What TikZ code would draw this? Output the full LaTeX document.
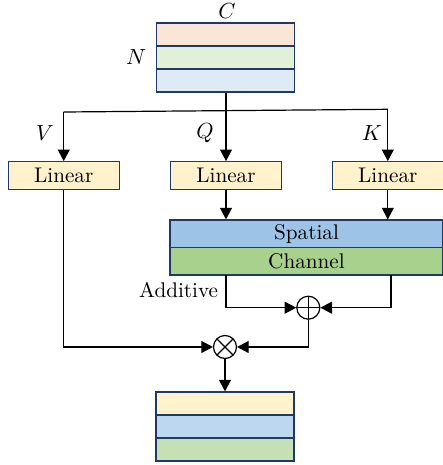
\documentclass[tikz,border=0pt]{standalone}
\usetikzlibrary{arrows.meta}
\definecolor{navy}{HTML}{1F3864}
\definecolor{peach}{HTML}{FBE5D6}
\definecolor{mint}{HTML}{E2F0D9}
\definecolor{sky}{HTML}{DEEBF7}
\definecolor{cream}{HTML}{FFF2CC}
\definecolor{spat}{HTML}{9DC3E6}
\definecolor{chan}{HTML}{A9D18E}
\definecolor{outblue}{HTML}{BDD7EE}
\definecolor{outgreen}{HTML}{C5E0B4}
\begin{document}
\begin{tikzpicture}[x=0.5pt,y=-0.5pt,
  font=\fontsize{10.6}{12}\selectfont,
  cell/.style={draw=navy,line width=0.6pt,minimum width=69pt,minimum height=11.5pt,inner sep=0pt},
  linbox/.style={draw=navy,fill=cream,line width=0.6pt,minimum width=55.5pt,minimum height=13.8pt,inner sep=0pt},
  wide/.style={draw=navy,line width=0.6pt,minimum width=136.5pt,minimum height=13.75pt,inner sep=0pt},
  conn/.style={line width=0.6pt},
  arr/.style={conn,-{Triangle[length=5.8pt,width=6pt]}},
  opnode/.style={circle,draw,line width=0.6pt,minimum size=11.5pt,inner sep=0pt},
  plusop/.style={opnode,path picture={
      \draw[line width=0.6pt] (path picture bounding box.north) -- (path picture bounding box.south)
        (path picture bounding box.west) -- (path picture bounding box.east);}},
  timesop/.style={opnode,path picture={
      \draw[line width=0.6pt] (path picture bounding box.north west) -- (path picture bounding box.south east)
        (path picture bounding box.north east) -- (path picture bounding box.south west);}}
]
\useasboundingbox (0,0) rectangle (443,465);

% input tensor
\node[cell,fill=peach] (in1) at (225.5,34.5) {};
\node[cell,fill=mint]  (in2) at (225.5,57.5) {};
\node[cell,fill=sky]   (in3) at (225.5,80.5) {};
\node (lC) at (227,11) {$C$};
\node (lN) at (136,57) {$N$};

% linear projections
\node[linbox] (linV) at (63.75,175.5) {Linear};
\node[linbox] (linQ) at (226,175.5) {Linear};
\node[linbox] (linK) at (387.8,175.5) {Linear};
\node (lV) at (45,133) {$V$};
\node (lQ) at (205,133) {$Q$};
\node (lK) at (372,133) {$K$};

% branching to V, Q, K
\coordinate (brV) at (63.75,112);
\coordinate (brK) at (387.8,109.3);
\draw[conn] (brV) -- (brK);
\draw[arr] (in3.south -| linQ.north) -- (linQ.north);
\draw[arr] (brV) -- (linV.north);
\draw[arr] (brK) -- (linK.north);

% attention block
\node[wide,fill=spat] (spatial) at (306.5,233.75) {Spatial};
\node[wide,fill=chan] (channel) at (306.5,261.25) {Channel};
\draw[arr] (linQ.south) -- (linQ.south |- spatial.north);
\draw[arr] (linK.south) -- (linK.south |- spatial.north);

% additive fusion
\node[plusop] (oplus) at (308.3,307.7) {};
\node[anchor=east,inner sep=0pt] (ladd) at (218.5,290) {Additive};
\coordinate (chL) at (226,275);
\coordinate (chR) at (391,275);
\draw[arr] (chL) |- (oplus.west);
\draw[arr] (chR) |- (oplus.east);

% multiplication with V
\node[timesop] (otimes) at (225,347) {};
\draw[arr] (oplus.south) |- (otimes.east);
\draw[arr] (linV.south) |- (otimes.west);

% output tensor
\node[cell,fill=cream]    (out1) at (225,403.5) {};
\node[cell,fill=outblue]  (out2) at (225,426.5) {};
\node[cell,fill=outgreen] (out3) at (225,449.5) {};
\draw[arr] (otimes.south) -- (out1.north);
\end{tikzpicture}
\end{document}
